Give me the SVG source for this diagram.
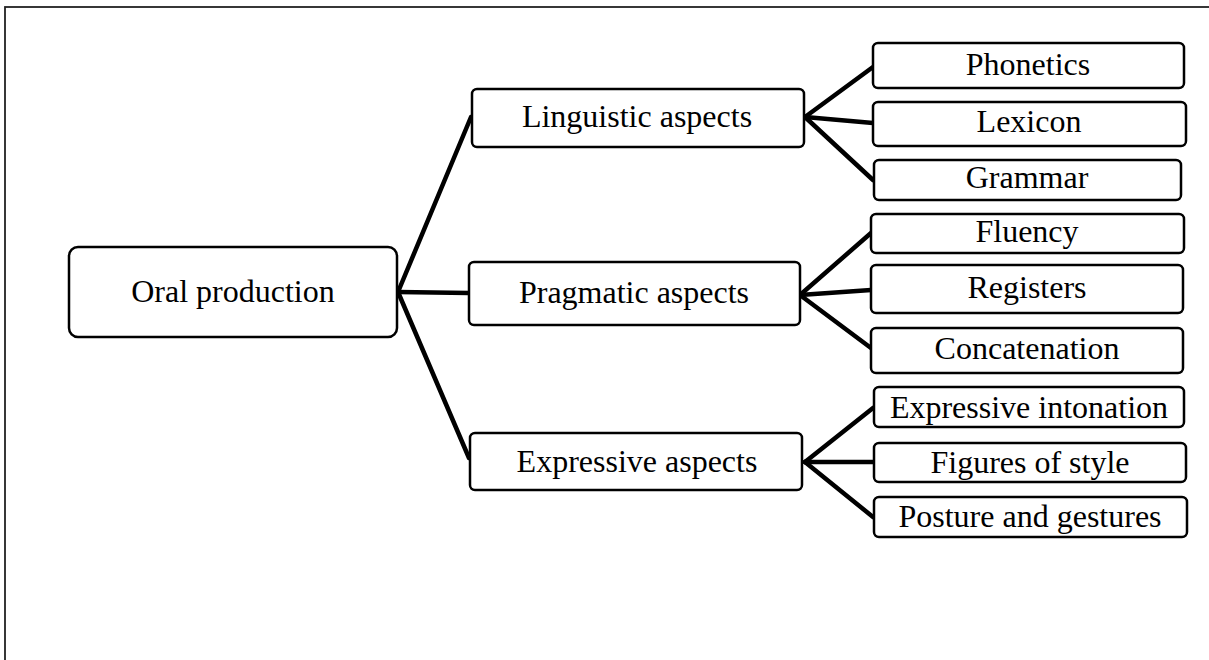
<svg xmlns="http://www.w3.org/2000/svg" width="1209" height="660" viewBox="0 0 1209 660">
<style>
.bx{fill:#fff;stroke:#000;stroke-width:2.5}
.t{font-family:"Liberation Serif","Times New Roman",serif;font-size:32px;fill:#000;text-anchor:middle}
.c{stroke:#000;stroke-width:4.5;fill:none;stroke-linecap:round}
</style>
<rect x="0" y="0" width="1209" height="660" fill="#fff"/>
<rect x="5" y="7" width="1230" height="700" fill="none" stroke="#222" stroke-width="1.8"/>
<g id="connectors">
<line class="c" x1="398" y1="292" x2="471" y2="117"/>
<line class="c" x1="398" y1="292" x2="469" y2="293"/>
<line class="c" x1="398" y1="292" x2="469" y2="458"/>
<line class="c" x1="805" y1="117" x2="873" y2="67"/>
<line class="c" x1="805" y1="117" x2="873" y2="123"/>
<line class="c" x1="805" y1="117" x2="873" y2="180"/>
<line class="c" x1="800" y1="295" x2="871" y2="233"/>
<line class="c" x1="800" y1="295" x2="871" y2="290"/>
<line class="c" x1="800" y1="295" x2="871" y2="348"/>
<line class="c" x1="805" y1="462" x2="873" y2="408"/>
<line class="c" x1="805" y1="462" x2="873" y2="462"/>
<line class="c" x1="805" y1="462" x2="873" y2="517"/>
</g>
<g id="oral"><rect class="bx" x="69" y="247" width="328" height="90" rx="9"/><text class="t" x="233" y="302">Oral production</text></g>
<g id="linguistic"><rect class="bx" x="472" y="89" width="332" height="58" rx="5"/><text class="t" x="637" y="127">Linguistic aspects</text></g>
<g id="pragmatic"><rect class="bx" x="469" y="262" width="331" height="63" rx="5"/><text class="t" x="634" y="303">Pragmatic aspects</text></g>
<g id="expressive"><rect class="bx" x="470" y="433" width="332" height="57" rx="5"/><text class="t" x="637" y="472">Expressive aspects</text></g>
<g id="phonetics"><rect class="bx" x="873" y="43" width="311" height="45" rx="5"/><text class="t" x="1028" y="75">Phonetics</text></g>
<g id="lexicon"><rect class="bx" x="873" y="102" width="313" height="44" rx="5"/><text class="t" x="1029" y="132">Lexicon</text></g>
<g id="grammar"><rect class="bx" x="874" y="160" width="307" height="40" rx="5"/><text class="t" x="1027" y="188">Grammar</text></g>
<g id="fluency"><rect class="bx" x="871" y="214" width="313" height="39" rx="5"/><text class="t" x="1027" y="242">Fluency</text></g>
<g id="registers"><rect class="bx" x="871" y="265" width="312" height="48" rx="5"/><text class="t" x="1027" y="298">Registers</text></g>
<g id="concatenation"><rect class="bx" x="871" y="328" width="312" height="45" rx="5"/><text class="t" x="1027" y="359">Concatenation</text></g>
<g id="intonation"><rect class="bx" x="874" y="387" width="310" height="40" rx="5"/><text class="t" x="1029" y="418">Expressive intonation</text></g>
<g id="figures"><rect class="bx" x="874" y="443" width="312" height="39" rx="5"/><text class="t" x="1030" y="473">Figures of style</text></g>
<g id="posture"><rect class="bx" x="874" y="497" width="313" height="40" rx="5"/><text class="t" x="1030" y="527">Posture and gestures</text></g>
</svg>
